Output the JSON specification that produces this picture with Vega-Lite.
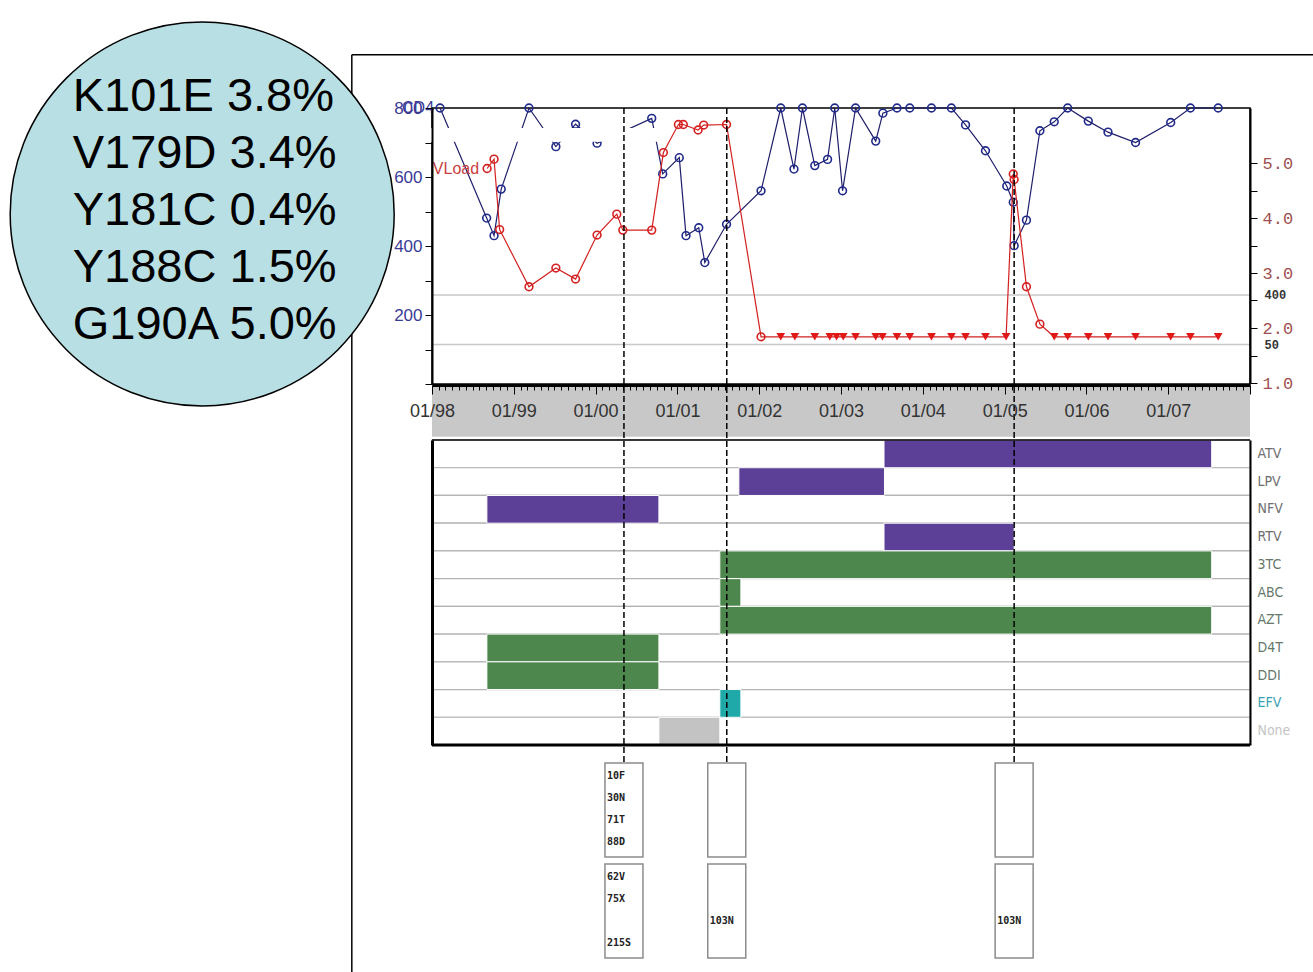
{
  "$schema": "https://vega.github.io/schema/vega-lite/v6.json",
  "width": 1313,
  "height": 972,
  "autosize": "none",
  "padding": 0,
  "background": "white",
  "config": {"view": {"stroke": null}},
  "resolve": {"scale": {"y": "independent", "color": "independent"}, "axis": {"x": "independent", "y": "independent"}},
  "datasets": {
    "cd4": [
      {"date": "1998-02-06", "cd4": 800}, {"date": "1998-09-02", "cd4": 481}, {"date": "1998-10-05", "cd4": 430},
      {"date": "1998-11-06", "cd4": 565}, {"date": "1999-03-10", "cd4": 800}, {"date": "1999-07-08", "cd4": 688},
      {"date": "1999-10-04", "cd4": 753}, {"date": "2000-01-08", "cd4": 698}, {"date": "2000-09-08", "cd4": 770},
      {"date": "2000-10-27", "cd4": 609}, {"date": "2001-01-09", "cd4": 656}, {"date": "2001-02-08", "cd4": 430},
      {"date": "2001-04-06", "cd4": 453}, {"date": "2001-05-03", "cd4": 352}, {"date": "2001-08-08", "cd4": 463},
      {"date": "2002-01-09", "cd4": 560}, {"date": "2002-04-07", "cd4": 800}, {"date": "2002-06-05", "cd4": 623},
      {"date": "2002-07-13", "cd4": 800}, {"date": "2002-09-06", "cd4": 633}, {"date": "2002-11-02", "cd4": 651},
      {"date": "2002-12-04", "cd4": 800}, {"date": "2003-01-08", "cd4": 560}, {"date": "2003-03-07", "cd4": 800},
      {"date": "2003-06-05", "cd4": 704}, {"date": "2003-07-07", "cd4": 785}, {"date": "2003-09-08", "cd4": 800},
      {"date": "2003-11-04", "cd4": 800}, {"date": "2004-02-09", "cd4": 800}, {"date": "2004-05-08", "cd4": 800},
      {"date": "2004-07-10", "cd4": 751}, {"date": "2004-10-07", "cd4": 676}, {"date": "2005-01-10", "cd4": 574},
      {"date": "2005-02-08", "cd4": 527}, {"date": "2005-02-12", "cd4": 401}, {"date": "2005-04-08", "cd4": 475},
      {"date": "2005-06-07", "cd4": 734}, {"date": "2005-08-10", "cd4": 760}, {"date": "2005-10-09", "cd4": 800},
      {"date": "2006-01-09", "cd4": 762}, {"date": "2006-04-07", "cd4": 730}, {"date": "2006-08-08", "cd4": 700},
      {"date": "2007-01-12", "cd4": 758}, {"date": "2007-04-10", "cd4": 800}, {"date": "2007-08-12", "cd4": 800}
    ],
    "viral_load": [
      {"date": "1998-09-04", "log_vl": 4.90, "censored": false}, {"date": "1998-10-05", "log_vl": 5.07, "censored": false},
      {"date": "1998-10-30", "log_vl": 3.79, "censored": false}, {"date": "1999-03-10", "log_vl": 2.75, "censored": false},
      {"date": "1999-07-08", "log_vl": 3.09, "censored": false}, {"date": "1999-10-04", "log_vl": 2.89, "censored": false},
      {"date": "2000-01-08", "log_vl": 3.69, "censored": false}, {"date": "2000-04-05", "log_vl": 4.07, "censored": false},
      {"date": "2000-05-02", "log_vl": 3.78, "censored": false}, {"date": "2000-09-08", "log_vl": 3.78, "censored": false},
      {"date": "2000-10-30", "log_vl": 5.19, "censored": false}, {"date": "2001-01-05", "log_vl": 5.70, "censored": false},
      {"date": "2001-01-27", "log_vl": 5.70, "censored": false}, {"date": "2001-04-03", "log_vl": 5.60, "censored": false},
      {"date": "2001-04-28", "log_vl": 5.69, "censored": false}, {"date": "2001-08-08", "log_vl": 5.70, "censored": false},
      {"date": "2002-01-09", "log_vl": 1.84, "censored": false}, {"date": "2002-04-07", "log_vl": 1.84, "censored": true},
      {"date": "2002-06-09", "log_vl": 1.84, "censored": true}, {"date": "2002-09-06", "log_vl": 1.84, "censored": true},
      {"date": "2002-11-12", "log_vl": 1.84, "censored": true}, {"date": "2002-12-12", "log_vl": 1.84, "censored": true},
      {"date": "2003-01-11", "log_vl": 1.84, "censored": true}, {"date": "2003-03-07", "log_vl": 1.84, "censored": true},
      {"date": "2003-06-05", "log_vl": 1.84, "censored": true}, {"date": "2003-07-05", "log_vl": 1.84, "censored": true},
      {"date": "2003-09-08", "log_vl": 1.84, "censored": true}, {"date": "2003-11-04", "log_vl": 1.84, "censored": true},
      {"date": "2004-02-09", "log_vl": 1.84, "censored": true}, {"date": "2004-05-08", "log_vl": 1.84, "censored": true},
      {"date": "2004-07-10", "log_vl": 1.84, "censored": true}, {"date": "2004-10-07", "log_vl": 1.84, "censored": true},
      {"date": "2005-01-07", "log_vl": 1.84, "censored": true}, {"date": "2005-02-08", "log_vl": 4.80, "censored": false},
      {"date": "2005-02-12", "log_vl": 4.70, "censored": false}, {"date": "2005-04-08", "log_vl": 2.75, "censored": false},
      {"date": "2005-06-07", "log_vl": 2.07, "censored": false}, {"date": "2005-08-10", "log_vl": 1.84, "censored": true},
      {"date": "2005-10-09", "log_vl": 1.84, "censored": true}, {"date": "2006-01-09", "log_vl": 1.84, "censored": true},
      {"date": "2006-04-07", "log_vl": 1.84, "censored": true}, {"date": "2006-08-08", "log_vl": 1.84, "censored": true},
      {"date": "2007-01-12", "log_vl": 1.84, "censored": true}, {"date": "2007-04-10", "log_vl": 1.84, "censored": true},
      {"date": "2007-08-12", "log_vl": 1.84, "censored": true}
    ],
    "thresholds": [
      {"copies": 400, "log_copies": 2.602},
      {"copies": 50, "log_copies": 1.699}
    ],
    "drugs": [
      {"drug": "ATV"}, {"drug": "LPV"}, {"drug": "NFV"}, {"drug": "RTV"}, {"drug": "3TC"}, {"drug": "ABC"},
      {"drug": "AZT"}, {"drug": "D4T"}, {"drug": "DDI"}, {"drug": "EFV"}, {"drug": "None"}
    ],
    "regimens": [
      {"drug": "ATV", "class": "PI", "start": "2003-07-12", "end": "2007-07-14"},
      {"drug": "LPV", "class": "PI", "start": "2001-10-02", "end": "2003-07-14"},
      {"drug": "NFV", "class": "PI", "start": "1998-09-03", "end": "2000-10-10"},
      {"drug": "RTV", "class": "PI", "start": "2003-07-12", "end": "2005-02-12"},
      {"drug": "3TC", "class": "NRTI", "start": "2001-07-09", "end": "2007-07-14"},
      {"drug": "ABC", "class": "NRTI", "start": "2001-07-09", "end": "2001-10-11"},
      {"drug": "AZT", "class": "NRTI", "start": "2001-07-09", "end": "2007-07-14"},
      {"drug": "D4T", "class": "NRTI", "start": "1998-09-03", "end": "2000-10-10"},
      {"drug": "DDI", "class": "NRTI", "start": "1998-09-03", "end": "2000-10-10"},
      {"drug": "EFV", "class": "NNRTI", "start": "2001-07-09", "end": "2001-10-11"},
      {"drug": "None", "class": "None", "start": "2000-10-10", "end": "2001-07-09"}
    ],
    "genotype_tests": [
      {"date": "2000-05-07", "gene": "PR"}, {"date": "2000-05-07", "gene": "RT"},
      {"date": "2001-08-09", "gene": "PR"}, {"date": "2001-08-09", "gene": "RT"},
      {"date": "2005-02-12", "gene": "PR"}, {"date": "2005-02-12", "gene": "RT"}
    ],
    "mutations": [
      {"date": "2000-05-07", "gene": "PR", "line": 1, "mutation": "10F"},
      {"date": "2000-05-07", "gene": "PR", "line": 2, "mutation": "30N"},
      {"date": "2000-05-07", "gene": "PR", "line": 3, "mutation": "71T"},
      {"date": "2000-05-07", "gene": "PR", "line": 4, "mutation": "88D"},
      {"date": "2000-05-07", "gene": "RT", "line": 1, "mutation": "62V"},
      {"date": "2000-05-07", "gene": "RT", "line": 2, "mutation": "75X"},
      {"date": "2000-05-07", "gene": "RT", "line": 4, "mutation": "215S"},
      {"date": "2001-08-09", "gene": "RT", "line": 3, "mutation": "103N"},
      {"date": "2005-02-12", "gene": "RT", "line": 3, "mutation": "103N"}
    ],
    "minority": [
      {"mutation": "K101E", "frequency": 3.8, "label": "K101E 3.8%"},
      {"mutation": "V179D", "frequency": 3.4, "label": "V179D 3.4%"},
      {"mutation": "Y181C", "frequency": 0.4, "label": "Y181C 0.4%"},
      {"mutation": "Y188C", "frequency": 1.5, "label": "Y188C 1.5%"},
      {"mutation": "G190A", "frequency": 5.0, "label": "G190A 5.0%"}
    ],
    "single": [{}]
  },
  "layer": [
    {
      "data": {"name": "single"},
      "mark": {"type": "rule", "color": "black", "strokeWidth": 1.5},
      "encoding": {
        "x": {"datum": {"year": 1997, "month": 1, "date": 8, "utc": true}, "type": "temporal", "axis": null,
              "scale": {"type": "utc", "domain": [{"year": 1998, "month": 1, "date": 1, "utc": true}, {"year": 2008, "month": 1, "date": 1, "utc": true}], "range": [432, 1250]}},
        "y": {"datum": 954, "type": "quantitative", "axis": null, "scale": {"domain": [0, 800], "range": [384, 108]}},
        "y2": {"datum": -1720}
      }
    },
    {
      "data": {"name": "single"},
      "mark": {"type": "rule", "color": "black", "strokeWidth": 1.5},
      "encoding": {
        "x": {"datum": {"year": 1997, "month": 1, "date": 8, "utc": true}, "type": "temporal", "axis": null,
              "scale": {"type": "utc", "domain": [{"year": 1998, "month": 1, "date": 1, "utc": true}, {"year": 2008, "month": 1, "date": 1, "utc": true}], "range": [432, 1250]}},
        "x2": {"datum": {"year": 2009, "month": 1, "date": 1, "utc": true}},
        "y": {"datum": 954, "type": "quantitative", "axis": null, "scale": {"domain": [0, 800], "range": [384, 108]}}
      }
    },
    {
      "data": {"name": "single"},
      "mark": {"type": "rect", "color": "#c8c8c8"},
      "encoding": {
        "x": {"datum": {"year": 1998, "month": 1, "date": 1, "utc": true}, "type": "temporal",
              "scale": {"type": "utc", "domain": [{"year": 1998, "month": 1, "date": 1, "utc": true}, {"year": 2008, "month": 1, "date": 1, "utc": true}], "range": [432, 1250]},
              "axis": {"orient": "bottom", "offset": -587, "zindex": 1, "title": null, "grid": false, "domain": true,
                       "tickCount": {"interval": "month", "step": 1},
                       "labelExpr": "utcmonth(datum.value) === 0 && utcyear(datum.value) < 2008 ? utcFormat(datum.value, '%m/%y') : ''",
                       "labelOverlap": false, "labelFlush": false, "labelBound": false,
                       "labelFont": "Liberation Sans", "labelFontSize": 18, "labelColor": "#333333", "labelPadding": 8,
                       "domainColor": "black", "domainWidth": 3, "tickColor": "black", "tickWidth": 1,
                       "tickSize": {"condition": {"test": "utcmonth(datum.value) === 0", "value": 9}, "value": 5}}},
        "x2": {"datum": {"year": 2008, "month": 1, "date": 1, "utc": true}},
        "y": {"datum": -7, "type": "quantitative", "axis": null, "scale": {"domain": [0, 800], "range": [384, 108]}},
        "y2": {"datum": -153}
      }
    },
    {
      "data": {"name": "thresholds"},
      "mark": {"type": "rule", "color": "#c8c8c8", "strokeWidth": 1.5},
      "encoding": {
        "x": {"datum": {"year": 1998, "month": 1, "date": 1, "utc": true}, "type": "temporal", "axis": null,
              "scale": {"type": "utc", "domain": [{"year": 1998, "month": 1, "date": 1, "utc": true}, {"year": 2008, "month": 1, "date": 1, "utc": true}], "range": [432, 1250]}},
        "x2": {"datum": {"year": 2008, "month": 1, "date": 1, "utc": true}},
        "y": {"field": "log_copies", "type": "quantitative", "axis": null, "scale": {"domain": [1, 6], "range": [383, 108]}}
      }
    },
    {
      "data": {"name": "single"},
      "mark": {"type": "rect", "filled": false, "stroke": "black", "strokeWidth": 1.5},
      "encoding": {
        "x": {"datum": {"year": 1998, "month": 1, "date": 1, "utc": true}, "type": "temporal", "axis": null,
              "scale": {"type": "utc", "domain": [{"year": 1998, "month": 1, "date": 1, "utc": true}, {"year": 2008, "month": 1, "date": 1, "utc": true}], "range": [432, 1250]}},
        "x2": {"datum": {"year": 2008, "month": 1, "date": 1, "utc": true}},
        "y": {"datum": 800, "type": "quantitative", "axis": null, "scale": {"domain": [0, 800], "range": [384, 108]}},
        "y2": {"datum": 0}
      }
    },
    {
      "data": {"name": "cd4"},
      "mark": {"type": "line", "color": "#1e1e6a", "strokeWidth": 1.2},
      "encoding": {
        "x": {"field": "date", "type": "temporal", "axis": null,
              "scale": {"type": "utc", "domain": [{"year": 1998, "month": 1, "date": 1, "utc": true}, {"year": 2008, "month": 1, "date": 1, "utc": true}], "range": [432, 1250]}},
        "y": {"field": "cd4", "type": "quantitative", "scale": {"domain": [0, 800], "range": [384, 108]},
              "axis": {"orient": "left", "offset": -432, "zindex": 1, "title": null, "grid": false,
                       "values": [0, 100, 200, 300, 400, 500, 600, 700, 800],
                       "labelExpr": "datum.value > 0 && datum.value % 200 === 0 ? datum.label : ''",
                       "labelFont": "Liberation Sans", "labelFontSize": 17, "labelColor": "#3a3a96", "labelPadding": 3,
                       "tickColor": "black", "tickSize": 7, "domainColor": "black", "domainWidth": 2}}
      }
    },
    {
      "data": {"name": "cd4"},
      "mark": {"type": "point", "shape": "circle", "filled": false, "color": "#1f2a8a", "strokeWidth": 1.6, "size": 60, "opacity": 1},
      "encoding": {
        "x": {"field": "date", "type": "temporal", "axis": null,
              "scale": {"type": "utc", "domain": [{"year": 1998, "month": 1, "date": 1, "utc": true}, {"year": 2008, "month": 1, "date": 1, "utc": true}], "range": [432, 1250]}},
        "y": {"field": "cd4", "type": "quantitative", "axis": null, "scale": {"domain": [0, 800], "range": [384, 108]}}
      }
    },
    {
      "data": {"name": "viral_load"},
      "mark": {"type": "line", "color": "#d42020", "strokeWidth": 1.2},
      "encoding": {
        "x": {"field": "date", "type": "temporal", "axis": null,
              "scale": {"type": "utc", "domain": [{"year": 1998, "month": 1, "date": 1, "utc": true}, {"year": 2008, "month": 1, "date": 1, "utc": true}], "range": [432, 1250]}},
        "y": {"field": "log_vl", "type": "quantitative", "scale": {"domain": [1, 6], "range": [383, 108]},
              "axis": {"orient": "right", "offset": -63, "zindex": 1, "title": null, "grid": false,
                       "values": [1, 1.5, 2, 2.5, 3, 3.5, 4, 4.5, 5, 1.699, 2.602],
                       "labelExpr": "datum.value === 2.602 ? '400' : datum.value === 1.699 ? '50' : (datum.value % 1 === 0 ? format(datum.value, '.1f') : '')",
                       "labelOverlap": false,
                       "labelPadding": {"condition": {"test": "datum.value === 2.602 || datum.value === 1.699", "value": 14}, "value": 5},
                       "labelFont": "Liberation Mono",
                       "labelFontSize": {"condition": {"test": "datum.value === 2.602 || datum.value === 1.699", "value": 12}, "value": 17},
                       "labelFontWeight": {"condition": {"test": "datum.value === 2.602 || datum.value === 1.699", "value": "bold"}, "value": "normal"},
                       "labelColor": {"condition": {"test": "datum.value === 2.602 || datum.value === 1.699", "value": "#333333"}, "value": "#a05050"},
                       "tickSize": {"condition": {"test": "datum.value === 2.602 || datum.value === 1.699", "value": 0}, "value": 7},
                       "tickColor": "black", "domainColor": "black", "domainWidth": 2}}
      }
    },
    {
      "data": {"name": "viral_load"},
      "transform": [{"filter": "!datum.censored"}],
      "mark": {"type": "point", "shape": "circle", "filled": false, "color": "#d42020", "strokeWidth": 1.6, "size": 60, "opacity": 1},
      "encoding": {
        "x": {"field": "date", "type": "temporal", "axis": null,
              "scale": {"type": "utc", "domain": [{"year": 1998, "month": 1, "date": 1, "utc": true}, {"year": 2008, "month": 1, "date": 1, "utc": true}], "range": [432, 1250]}},
        "y": {"field": "log_vl", "type": "quantitative", "axis": null, "scale": {"domain": [1, 6], "range": [383, 108]}}
      }
    },
    {
      "data": {"name": "viral_load"},
      "transform": [{"filter": "datum.censored"}],
      "mark": {"type": "point", "shape": "triangle-down", "filled": true, "color": "#e01818", "size": 75, "opacity": 1},
      "encoding": {
        "x": {"field": "date", "type": "temporal", "axis": null,
              "scale": {"type": "utc", "domain": [{"year": 1998, "month": 1, "date": 1, "utc": true}, {"year": 2008, "month": 1, "date": 1, "utc": true}], "range": [432, 1250]}},
        "y": {"field": "log_vl", "type": "quantitative", "axis": null, "scale": {"domain": [1, 6], "range": [383, 108]}}
      }
    },
    {
      "data": {"name": "cd4"},
      "transform": [{"window": [{"op": "row_number", "as": "rank"}], "sort": [{"field": "date"}]}, {"filter": "datum.rank === 1"}],
      "mark": {"type": "text", "align": "right", "baseline": "middle", "dx": -6, "font": "Liberation Sans", "fontSize": 16, "color": "#3a3a96"},
      "encoding": {
        "x": {"field": "date", "type": "temporal", "axis": null,
              "scale": {"type": "utc", "domain": [{"year": 1998, "month": 1, "date": 1, "utc": true}, {"year": 2008, "month": 1, "date": 1, "utc": true}], "range": [432, 1250]}},
        "y": {"field": "cd4", "type": "quantitative", "axis": null, "scale": {"domain": [0, 800], "range": [384, 108]}},
        "text": {"value": "CD4"}
      }
    },
    {
      "data": {"name": "viral_load"},
      "transform": [{"window": [{"op": "row_number", "as": "rank"}], "sort": [{"field": "date"}]}, {"filter": "datum.rank === 1"}],
      "mark": {"type": "text", "align": "right", "baseline": "middle", "dx": -8, "font": "Liberation Sans", "fontSize": 16, "color": "#c84040"},
      "encoding": {
        "x": {"field": "date", "type": "temporal", "axis": null,
              "scale": {"type": "utc", "domain": [{"year": 1998, "month": 1, "date": 1, "utc": true}, {"year": 2008, "month": 1, "date": 1, "utc": true}], "range": [432, 1250]}},
        "y": {"field": "log_vl", "type": "quantitative", "axis": null, "scale": {"domain": [1, 6], "range": [383, 108]}},
        "text": {"value": "VLoad"}
      }
    },
    {
      "data": {"name": "single"},
      "mark": {"type": "rect", "color": "white"},
      "encoding": {
        "x": {"datum": {"year": 1997, "month": 5, "date": 11, "utc": true}, "type": "temporal", "axis": null,
              "scale": {"type": "utc", "domain": [{"year": 1998, "month": 1, "date": 1, "utc": true}, {"year": 2008, "month": 1, "date": 1, "utc": true}], "range": [432, 1250]}},
        "x2": {"datum": {"year": 2000, "month": 10, "date": 25, "utc": true}},
        "y": {"datum": 742, "type": "quantitative", "axis": null, "scale": {"domain": [0, 800], "range": [384, 108]}},
        "y2": {"datum": 702}
      }
    },
    {
      "data": {"name": "drugs"},
      "mark": {"type": "rect", "fill": "white", "stroke": "#b4b4b4", "strokeWidth": 1.2},
      "encoding": {
        "x": {"datum": {"year": 1998, "month": 1, "date": 1, "utc": true}, "type": "temporal", "axis": null,
              "scale": {"type": "utc", "domain": [{"year": 1998, "month": 1, "date": 1, "utc": true}, {"year": 2008, "month": 1, "date": 1, "utc": true}], "range": [432, 1250]}},
        "x2": {"datum": {"year": 2008, "month": 1, "date": 1, "utc": true}},
        "y": {"field": "drug", "type": "nominal",
              "scale": {"type": "band", "domain": ["ATV", "LPV", "NFV", "RTV", "3TC", "ABC", "AZT", "D4T", "DDI", "EFV", "None"], "range": [440, 745], "paddingInner": 0, "paddingOuter": 0},
              "axis": {"orient": "left", "offset": -432, "zindex": 1, "title": null, "labels": false, "ticks": false, "grid": false, "domainColor": "black", "domainWidth": 3}}
      }
    },
    {
      "data": {"name": "regimens"},
      "mark": {"type": "rect", "stroke": "white", "strokeWidth": 1},
      "encoding": {
        "x": {"field": "start", "type": "temporal", "axis": null,
              "scale": {"type": "utc", "domain": [{"year": 1998, "month": 1, "date": 1, "utc": true}, {"year": 2008, "month": 1, "date": 1, "utc": true}], "range": [432, 1250]}},
        "x2": {"field": "end"},
        "y": {"field": "drug", "type": "nominal",
              "scale": {"type": "band", "domain": ["ATV", "LPV", "NFV", "RTV", "3TC", "ABC", "AZT", "D4T", "DDI", "EFV", "None"], "range": [440, 745], "paddingInner": 0, "paddingOuter": 0},
              "axis": {"orient": "right", "offset": -63, "zindex": 1, "title": null, "ticks": false, "grid": false,
                       "domainColor": "black", "domainWidth": 2, "labelPadding": 7,
                       "labelFont": "DejaVu Sans Condensed, Liberation Sans, sans-serif", "labelFontSize": 14,
                       "labelColor": {"condition": [
                         {"test": "indexof(['ATV','LPV','NFV','RTV'], datum.value) >= 0", "value": "#6e6e6e"},
                         {"test": "datum.value === 'EFV'", "value": "#3aa2b4"},
                         {"test": "datum.value === 'None'", "value": "#c4c4c4"}], "value": "#66786a"}}},
        "color": {"field": "class", "type": "nominal", "legend": null,
                  "scale": {"domain": ["PI", "NRTI", "NNRTI", "None"], "range": ["#5c3f97", "#4e874e", "#1fa9a9", "#c3c3c3"]}}
      }
    },
    {
      "data": {"name": "single"},
      "mark": {"type": "rule", "color": "black", "strokeWidth": 1.5},
      "encoding": {
        "x": {"datum": {"year": 1998, "month": 1, "date": 1, "utc": true}, "type": "temporal", "axis": null,
              "scale": {"type": "utc", "domain": [{"year": 1998, "month": 1, "date": 1, "utc": true}, {"year": 2008, "month": 1, "date": 1, "utc": true}], "range": [432, 1250]}},
        "x2": {"datum": {"year": 2008, "month": 1, "date": 1, "utc": true}},
        "y": {"datum": "ATV", "type": "nominal", "bandPosition": 0, "axis": null,
              "scale": {"type": "band", "domain": ["ATV", "LPV", "NFV", "RTV", "3TC", "ABC", "AZT", "D4T", "DDI", "EFV", "None"], "range": [440, 745], "paddingInner": 0, "paddingOuter": 0}}
      }
    },
    {
      "data": {"name": "single"},
      "mark": {"type": "rule", "color": "black", "strokeWidth": 3},
      "encoding": {
        "x": {"datum": {"year": 1998, "month": 1, "date": 1, "utc": true}, "type": "temporal", "axis": null,
              "scale": {"type": "utc", "domain": [{"year": 1998, "month": 1, "date": 1, "utc": true}, {"year": 2008, "month": 1, "date": 1, "utc": true}], "range": [432, 1250]}},
        "x2": {"datum": {"year": 2008, "month": 1, "date": 1, "utc": true}},
        "y": {"datum": "None", "type": "nominal", "bandPosition": 1, "axis": null,
              "scale": {"type": "band", "domain": ["ATV", "LPV", "NFV", "RTV", "3TC", "ABC", "AZT", "D4T", "DDI", "EFV", "None"], "range": [440, 745], "paddingInner": 0, "paddingOuter": 0}}
      }
    },
    {
      "data": {"name": "genotype_tests"},
      "transform": [{"filter": "datum.gene === 'PR'"}],
      "mark": {"type": "rule", "color": "black", "strokeWidth": 1.5, "strokeDash": [6, 3]},
      "encoding": {
        "x": {"field": "date", "type": "temporal", "axis": null,
              "scale": {"type": "utc", "domain": [{"year": 1998, "month": 1, "date": 1, "utc": true}, {"year": 2008, "month": 1, "date": 1, "utc": true}], "range": [432, 1250]}},
        "y": {"datum": 800, "type": "quantitative", "axis": null, "scale": {"domain": [0, 800], "range": [384, 108]}},
        "y2": {"datum": -1099}
      }
    },
    {
      "data": {"name": "genotype_tests"},
      "mark": {"type": "rect", "width": 38, "fill": "white", "stroke": "#8c8c8c", "strokeWidth": 1.5},
      "encoding": {
        "x": {"field": "date", "type": "temporal", "axis": null,
              "scale": {"type": "utc", "domain": [{"year": 1998, "month": 1, "date": 1, "utc": true}, {"year": 2008, "month": 1, "date": 1, "utc": true}], "range": [432, 1250]}},
        "y": {"field": "gene", "type": "nominal", "axis": null,
              "scale": {"type": "band", "domain": ["PR", "RT"], "range": [763, 958], "paddingInner": 0.07, "paddingOuter": 0}}
      }
    },
    {
      "data": {"name": "mutations"},
      "transform": [{"filter": "datum.line === 1"}],
      "mark": {"type": "text", "align": "left", "baseline": "middle", "dx": -17, "dy": -34, "font": "DejaVu Sans Mono", "fontWeight": "bold", "fontSize": 10, "color": "#222222"},
      "encoding": {
        "x": {"field": "date", "type": "temporal", "axis": null,
              "scale": {"type": "utc", "domain": [{"year": 1998, "month": 1, "date": 1, "utc": true}, {"year": 2008, "month": 1, "date": 1, "utc": true}], "range": [432, 1250]}},
        "y": {"field": "gene", "type": "nominal", "axis": null,
              "scale": {"type": "band", "domain": ["PR", "RT"], "range": [763, 958], "paddingInner": 0.07, "paddingOuter": 0}},
        "text": {"field": "mutation", "type": "nominal"}
      }
    },
    {
      "data": {"name": "mutations"},
      "transform": [{"filter": "datum.line === 2"}],
      "mark": {"type": "text", "align": "left", "baseline": "middle", "dx": -17, "dy": -12, "font": "DejaVu Sans Mono", "fontWeight": "bold", "fontSize": 10, "color": "#222222"},
      "encoding": {
        "x": {"field": "date", "type": "temporal", "axis": null,
              "scale": {"type": "utc", "domain": [{"year": 1998, "month": 1, "date": 1, "utc": true}, {"year": 2008, "month": 1, "date": 1, "utc": true}], "range": [432, 1250]}},
        "y": {"field": "gene", "type": "nominal", "axis": null,
              "scale": {"type": "band", "domain": ["PR", "RT"], "range": [763, 958], "paddingInner": 0.07, "paddingOuter": 0}},
        "text": {"field": "mutation", "type": "nominal"}
      }
    },
    {
      "data": {"name": "mutations"},
      "transform": [{"filter": "datum.line === 3"}],
      "mark": {"type": "text", "align": "left", "baseline": "middle", "dx": -17, "dy": 10, "font": "DejaVu Sans Mono", "fontWeight": "bold", "fontSize": 10, "color": "#222222"},
      "encoding": {
        "x": {"field": "date", "type": "temporal", "axis": null,
              "scale": {"type": "utc", "domain": [{"year": 1998, "month": 1, "date": 1, "utc": true}, {"year": 2008, "month": 1, "date": 1, "utc": true}], "range": [432, 1250]}},
        "y": {"field": "gene", "type": "nominal", "axis": null,
              "scale": {"type": "band", "domain": ["PR", "RT"], "range": [763, 958], "paddingInner": 0.07, "paddingOuter": 0}},
        "text": {"field": "mutation", "type": "nominal"}
      }
    },
    {
      "data": {"name": "mutations"},
      "transform": [{"filter": "datum.line === 4"}],
      "mark": {"type": "text", "align": "left", "baseline": "middle", "dx": -17, "dy": 32, "font": "DejaVu Sans Mono", "fontWeight": "bold", "fontSize": 10, "color": "#222222"},
      "encoding": {
        "x": {"field": "date", "type": "temporal", "axis": null,
              "scale": {"type": "utc", "domain": [{"year": 1998, "month": 1, "date": 1, "utc": true}, {"year": 2008, "month": 1, "date": 1, "utc": true}], "range": [432, 1250]}},
        "y": {"field": "gene", "type": "nominal", "axis": null,
              "scale": {"type": "band", "domain": ["PR", "RT"], "range": [763, 958], "paddingInner": 0.07, "paddingOuter": 0}},
        "text": {"field": "mutation", "type": "nominal"}
      }
    },
    {
      "data": {"name": "single"},
      "mark": {"type": "point", "shape": "circle", "filled": true, "fill": "#b8dfe3", "stroke": "black", "strokeWidth": 1.5, "size": 147456, "opacity": 1},
      "encoding": {
        "x": {"datum": {"year": 1995, "month": 3, "date": 12, "utc": true}, "type": "temporal", "axis": null,
              "scale": {"type": "utc", "domain": [{"year": 1998, "month": 1, "date": 1, "utc": true}, {"year": 2008, "month": 1, "date": 1, "utc": true}], "range": [432, 1250]}},
        "y": {"datum": 493, "type": "quantitative", "axis": null, "scale": {"domain": [0, 800], "range": [384, 108]}}
      }
    },
    {
      "data": {"name": "minority"},
      "mark": {"type": "text", "align": "left", "baseline": "middle", "font": "Liberation Sans", "fontSize": 47, "color": "black"},
      "encoding": {
        "x": {"datum": {"year": 1993, "month": 8, "date": 11, "utc": true}, "type": "temporal", "axis": null,
              "scale": {"type": "utc", "domain": [{"year": 1998, "month": 1, "date": 1, "utc": true}, {"year": 2008, "month": 1, "date": 1, "utc": true}], "range": [432, 1250]}},
        "y": {"field": "mutation", "type": "nominal", "axis": null,
              "scale": {"type": "band", "domain": ["K101E", "V179D", "Y181C", "Y188C", "G190A"], "range": [68, 354], "paddingInner": 0, "paddingOuter": 0}},
        "text": {"field": "label", "type": "nominal"}
      }
    }
  ]
}
